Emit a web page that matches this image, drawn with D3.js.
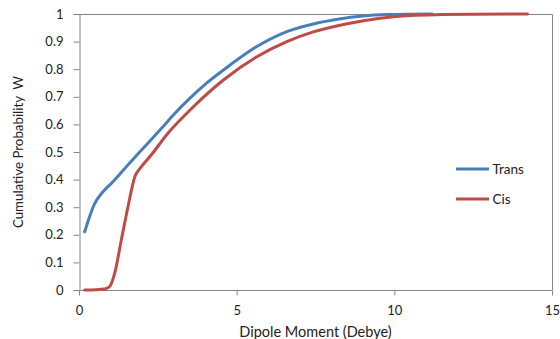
<!DOCTYPE html>
<html>
<head>
<meta charset="utf-8">
<script src="https://cdn.jsdelivr.net/npm/d3@7"></script>
<style>
  html, body { margin: 0; padding: 0; background: #fff; }
  svg text { font-family: Lato, "Open Sans", sans-serif; fill: #222; }
</style>
</head>
<body>
<svg id="chart" width="560" height="339"></svg>
<script>
// Dipole moment (Debye) vs cumulative probability W
const transX = [0.18, 0.50, 0.76, 1.03, 1.55, 2.08, 2.61, 3.00, 3.52, 4.00, 4.58, 5.64, 6.59, 7.43, 8.20, 9.00, 9.80, 11.2];
const transW = [0.211, 0.314, 0.356, 0.387, 0.453, 0.519, 0.585, 0.635, 0.695, 0.745, 0.797, 0.882, 0.936, 0.964, 0.981, 0.993, 0.998, 1.0];

const cisX = [0.18, 0.81, 0.97, 1.13, 1.34, 1.55, 1.77, 1.98, 2.29, 2.82, 3.52, 4.58, 5.64, 6.59, 7.43, 8.50, 9.50, 10.5, 11.5, 12.5, 14.22];
const cisW = [0.0, 0.004, 0.012, 0.06, 0.18, 0.30, 0.41, 0.447, 0.489, 0.568, 0.652, 0.761, 0.845, 0.900, 0.935, 0.965, 0.984, 0.995, 0.998, 0.999, 1.0];

const xTicks = [0, 5, 10, 15];
const yTicks = [0, 0.1, 0.2, 0.3, 0.4, 0.5, 0.6, 0.7, 0.8, 0.9, 1];

const seriesNames = ["Trans", "Cis"];
const seriesColors = ["#4A7EBB", "#BE4B48"];

const svg = d3.select("#chart");
const plotL = 79, plotR = 552, plotT = 14, plotB = 290;

const x = d3.scaleLinear().domain([0, 15]).range([plotL, plotR]);
const y = d3.scaleLinear().domain([0, 1]).range([plotB, plotT]);

const axisColor = "#868686";

// frame: top and right edges
svg.append("path")
  .attr("d", `M${plotL},${plotT + 0.5}H${plotR + 0.5}V${plotB}`)
  .attr("fill", "none").attr("stroke", axisColor).attr("stroke-width", 1);

// y axis
const yAxis = svg.append("g")
  .attr("transform", `translate(${plotL + 0.5},0)`)
  .call(d3.axisLeft(y).tickValues(yTicks).tickSize(6).tickPadding(10)
    .tickFormat(d => d3.format("~g")(d)));
yAxis.selectAll("path, line").attr("stroke", axisColor);
yAxis.selectAll("text").style("font-size", "13px").style("font-family", "Lato, sans-serif").attr("fill", "#222");

// x axis
const xAxis = svg.append("g")
  .attr("transform", `translate(0,${plotB + 0.5})`)
  .call(d3.axisBottom(x).tickValues(xTicks).tickSize(5).tickPadding(10)
    .tickFormat(d3.format("d")));
xAxis.select(".domain").attr("d", `M${plotL},0H${plotR + 0.5}`);
xAxis.selectAll("path, line").attr("stroke", axisColor);
xAxis.selectAll("text").style("font-size", "13px").style("font-family", "Lato, sans-serif").attr("fill", "#222");

// axis titles
svg.append("text")
  .attr("x", (plotL + plotR) / 2).attr("y", 336.5)
  .attr("text-anchor", "middle").style("font-size", "14.5px")
  .text("Dipole Moment (Debye)");

svg.append("text")
  .attr("transform", `translate(22.5,152) rotate(-90)`)
  .attr("text-anchor", "middle").style("font-size", "13.3px")
  .attr("xml:space", "preserve")
  .text("Cumulative Probability  W");

// curves
const line = d3.line().x(d => x(d[0])).y(d => y(d[1])).curve(d3.curveMonotoneX);
const series = [d3.zip(transX, transW), d3.zip(cisX, cisW)];
series.forEach((pts, i) => {
  svg.append("path")
    .datum(pts)
    .attr("d", line)
    .attr("fill", "none")
    .attr("stroke", seriesColors[i])
    .attr("stroke-width", 3)
    .attr("stroke-linejoin", "round")
    .attr("stroke-linecap", "round");
});

// legend
const legend = svg.append("g");
seriesNames.forEach((name, i) => {
  const ly = 169 + i * 30;
  legend.append("line")
    .attr("x1", 456).attr("x2", 489).attr("y1", ly).attr("y2", ly)
    .attr("stroke", seriesColors[i]).attr("stroke-width", 3);
  legend.append("text")
    .attr("x", 492.5).attr("y", ly + 5)
    .style("font-size", "13.5px")
    .text(name);
});
</script>
</body>
</html>
